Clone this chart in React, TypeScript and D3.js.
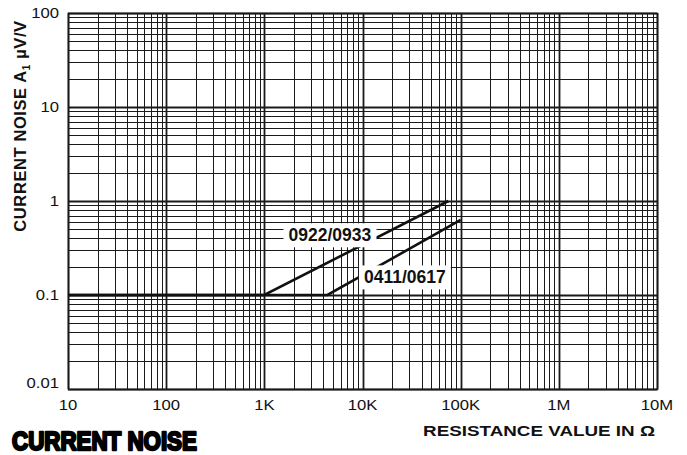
import { useEffect, useRef } from 'react'
import * as d3 from 'd3'

const W = 687
const H = 455

// x domain: resistance in ohms, y domain: current noise in uV/V
const xDomain = [10, 1e7]
const yDomain = [0.01, 100]
const xTickValues = [10, 100, 1e3, 1e4, 1e5, 1e6, 1e7]
const xTickLabels = ['10', '100', '1K', '10K', '100K', '1M', '10M']
const yTickValues = [0.01, 0.1, 1, 10, 100]
const yTickLabels = ['0.01', '0.1', '1', '10', '100']

const series0922X = [10, 1000, 75000]
const series0922Y = [0.1, 0.1, 1]
const series0411X = [10, 4400, 100000]
const series0411Y = [0.1, 0.1, 0.63]

const seriesNames = ['0922/0933', '0411/0617']
const labelAnchorX = [4650, 27000]
const labelAnchorY = [0.435, 0.155]

export default function App() {
  const svgRef = useRef<SVGSVGElement>(null)

  useEffect(() => {
    if (!svgRef.current) return
    const svg = d3.select(svgRef.current)
    svg.selectAll('*').remove()

    const m = { left: 68, right: 30, top: 13, bottom: 66 }
    const x = d3.scaleLog().domain(xDomain).range([m.left, W - m.right])
    const y = d3.scaleLog().domain(yDomain).range([H - m.bottom, m.top])
    const font = 'Liberation Sans, Arial, sans-serif'

    const g = svg.append('g')

    // grid
    const isDecade = (v: number) => Math.abs(Math.log10(v) - Math.round(Math.log10(v))) < 1e-9
    g.selectAll('line.vgrid')
      .data(x.ticks())
      .enter()
      .append('line')
      .attr('x1', d => Math.round(x(d)) + 0.5)
      .attr('x2', d => Math.round(x(d)) + 0.5)
      .attr('y1', y(yDomain[0]))
      .attr('y2', y(yDomain[1]))
      .attr('stroke', '#1a1a1a')
      .attr('stroke-width', d => (isDecade(d) ? 1.8 : 1))

    g.selectAll('line.hgrid')
      .data(y.ticks())
      .enter()
      .append('line')
      .attr('y1', d => Math.round(y(d)) + 0.5)
      .attr('y2', d => Math.round(y(d)) + 0.5)
      .attr('x1', x(xDomain[0]))
      .attr('x2', x(xDomain[1]))
      .attr('stroke', '#1a1a1a')
      .attr('stroke-width', d => (isDecade(d) ? 1.8 : 1))

    g.append('rect')
      .attr('x', x(xDomain[0]) + 0.5)
      .attr('y', y(yDomain[1]) + 0.5)
      .attr('width', x(xDomain[1]) - x(xDomain[0]))
      .attr('height', y(yDomain[0]) - y(yDomain[1]))
      .attr('fill', 'none')
      .attr('stroke', '#1a1a1a')
      .attr('stroke-width', 1.5)

    // curves
    const line = d3.line<[number, number]>().x(d => x(d[0])).y(d => y(d[1]))
    const curves = [
      series0922X.map((v, i) => [v, series0922Y[i]] as [number, number]),
      series0411X.map((v, i) => [v, series0411Y[i]] as [number, number])
    ]
    curves.forEach(c => {
      g.append('path')
        .attr('d', line(c) || '')
        .attr('fill', 'none')
        .attr('stroke', '#111')
        .attr('stroke-width', 2.6)
    })

    // series labels with white boxes
    seriesNames.forEach((name, i) => {
      const cx = x(labelAnchorX[i])
      const cy = y(labelAnchorY[i])
      const t = g.append('text')
        .attr('x', cx)
        .attr('y', cy)
        .attr('text-anchor', 'middle')
        .attr('dy', '0.36em')
        .style('font-family', font)
        .style('font-weight', 'bold')
        .style('font-size', '17.5px')
        .style('fill', '#111')
        .text(name)
      const bb = (t.node() as SVGTextElement).getBBox()
      g.insert('rect', () => t.node())
        .attr('x', bb.x - 5)
        .attr('y', bb.y - 2)
        .attr('width', bb.width + 10)
        .attr('height', bb.height + 4)
        .attr('fill', '#fff')
    })

    // y tick labels (slightly wide face, like the original)
    yTickValues.forEach((v, i) => {
      svg.append('text')
        .attr('transform', `translate(${m.left - 9}, ${y(v) - (i === 0 ? 6 : 0)}) scale(1.15, 1)`)
        .attr('dy', '0.36em')
        .attr('text-anchor', 'end')
        .style('font-family', font)
        .style('font-size', '14.5px')
        .style('fill', '#111')
        .text(yTickLabels[i])
    })

    // x tick labels
    xTickValues.forEach((v, i) => {
      svg.append('text')
        .attr('transform', `translate(${x(v)}, 410) scale(1.15, 1)`)
        .attr('text-anchor', 'middle')
        .style('font-family', font)
        .style('font-size', '14.5px')
        .style('fill', '#111')
        .text(xTickLabels[i])
    })

    // axis titles
    const yTitle = svg.append('text')
      .attr('transform', `translate(26, 126) rotate(-90)`)
      .attr('text-anchor', 'middle')
      .style('font-family', font)
      .style('font-weight', 'bold')
      .style('font-size', '16.5px')
      .style('fill', '#111')
      .style('letter-spacing', '0.6px')
    yTitle.append('tspan').text('CURRENT NOISE A')
    yTitle.append('tspan').attr('dy', 4).style('font-size', '10px').text('1')
    yTitle.append('tspan').attr('dy', -4).text(' \u00B5V/V')

    const xTitle = svg.append('text')
      .attr('text-anchor', 'end')
      .style('font-family', font)
      .style('font-weight', 'bold')
      .style('font-size', '15px')
      .style('fill', '#111')
      .text('RESISTANCE VALUE IN \u03A9')
    const xtw = (xTitle.node() as SVGTextElement).getComputedTextLength()
    xTitle.attr('transform', `translate(655, 436) scale(${232 / xtw}, 1)`)

    const title = svg.append('text')
      .style('font-family', font)
      .style('font-weight', 'bold')
      .style('font-size', '23px')
      .style('fill', '#000')
      .style('stroke', '#000')
      .style('stroke-width', 2.1)
      .style('stroke-linejoin', 'round')
      .text('CURRENT NOISE')
    const tw = (title.node() as SVGTextElement).getComputedTextLength()
    title.attr('transform', `translate(12, 449.5) scale(${185 / tw}, 1.15)`)
  }, [])

  return (
    <svg
      ref={svgRef}
      width={W}
      height={H}
      style={{ position: 'absolute', left: 0, top: 0, background: '#fff' }}
    />
  )
}
